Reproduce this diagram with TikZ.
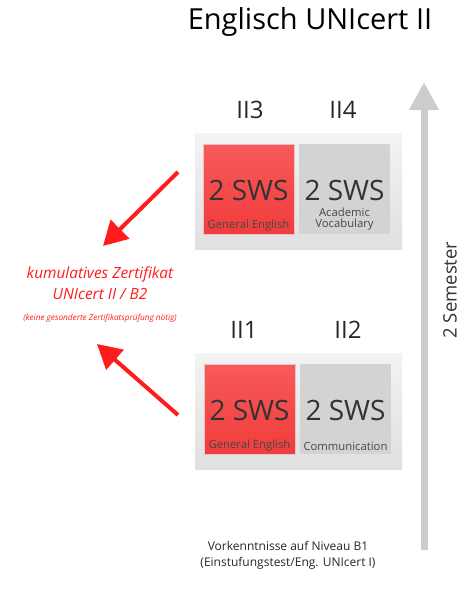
\documentclass[tikz,border=0pt]{standalone}
\usepackage{fontspec}
\setmainfont{Open Sans}
\usetikzlibrary{arrows.meta}
\definecolor{panelgray}{HTML}{EBEBEB}
\definecolor{panelgrayb}{HTML}{E0E0E0}
\definecolor{boxgray}{HTML}{D3D3D3}
\definecolor{boxred}{HTML}{F85A5A}
\definecolor{boxredb}{HTML}{F03C3C}
\definecolor{arrred}{HTML}{FF1C1C}
\definecolor{axisgray}{HTML}{CCCCCC}
\definecolor{txt}{HTML}{333333}
\tikzset{
  panel/.style={draw=none, top color=panelgray!60, bottom color=panelgrayb},
  redbox/.style={draw=boxredb!80!black!30, line width=0.4pt, top color=boxred, bottom color=boxredb},
  graybox/.style={draw=none, fill=boxgray},
  swstext/.style={font=\fontsize{28}{30}\selectfont, text=txt},
  subtext/.style={font=\fontsize{11.3}{13}\selectfont, text=txt!90, align=center},
  coursetitle/.style={font=\fontsize{24}{26}\selectfont, text=black!85},
  redarrow/.style={draw=arrred, line width=4pt, -{Triangle[length=24pt,width=26pt]}},
  certtext/.style={text=arrred, align=center},
}
\begin{document}
\begin{tikzpicture}[x=1pt,y=-1pt]
\useasboundingbox (0,0) rectangle (471,600);
% title
\node (title) at (310,22) {\fontsize{29}{32}\selectfont Englisch UNIcert II};
% semester axis
\coordinate (axbot) at (424,550);
\coordinate (axtop) at (424,82);
\draw[axisgray, line width=7pt, -{Triangle[length=28pt,width=28pt]}] (axbot) -- (axtop);
\node[rotate=90, font=\fontsize{18.5}{20}\selectfont, text=txt] (sem) at (450,290) {2 Semester};
% upper panel
\fill[panel] (195,133) rectangle (402,249);
\node[redbox, minimum width=91, minimum height=90, anchor=north west, inner sep=0] (b3) at (203,144) {};
\node[graybox, minimum width=91, minimum height=90, anchor=north west, inner sep=0] (b4) at (299,144) {};
\node[swstext] (s3) at (248.5,190) {2 SWS};
\node[swstext] (s4) at (344.5,190) {2 SWS};
\node[subtext] (g3) at (248.5,226) {General English};
\node[subtext] (g4) at (344.5,219) {Academic\\[-1.5pt]Vocabulary};
\node[coursetitle] (t3) at (250,110) {II3};
\node[coursetitle] (t4) at (343,110) {II4};
% lower panel
\fill[panel] (195,353) rectangle (402,469);
\node[redbox, minimum width=91, minimum height=90, anchor=north west, inner sep=0] (b1) at (204,364) {};
\node[graybox, minimum width=91, minimum height=90, anchor=north west, inner sep=0] (b2) at (300,364) {};
\node[swstext] (s1) at (249.5,410) {2 SWS};
\node[swstext] (s2) at (345.5,410) {2 SWS};
\node[subtext] (g1) at (249.5,446) {General English};
\node[subtext] (g2) at (345.5,446) {Communication};
\node[coursetitle] (t1) at (244,330) {II1};
\node[coursetitle] (t2) at (348,330) {II2};
% certificate text
\node[certtext, font=\itshape\fontsize{15.4}{21}\selectfont] (cert) at (100,283) {kumulatives Zertifikat\\UNIcert II / B2};
\node[certtext, font=\itshape\fontsize{8.2}{9}\selectfont] (certsub) at (100,318) {(keine gesonderte Zertifikatspr\"ufung n\"otig)};
\coordinate (a1s) at (178,172);
\coordinate (a1e) at (103,246);
\coordinate (a2s) at (178,415);
\coordinate (a2e) at (97,344);
\draw[redarrow] (a1s) -- (a1e);
\draw[redarrow] (a2s) -- (a2e);
% bottom text
\node[align=center, font=\fontsize{12}{16}\selectfont, text=black!85] (pre) at (288,555) {Vorkenntnisse auf Niveau B1\\(Einstufungstest/Eng. UNIcert I)};
\end{tikzpicture}
\end{document}
